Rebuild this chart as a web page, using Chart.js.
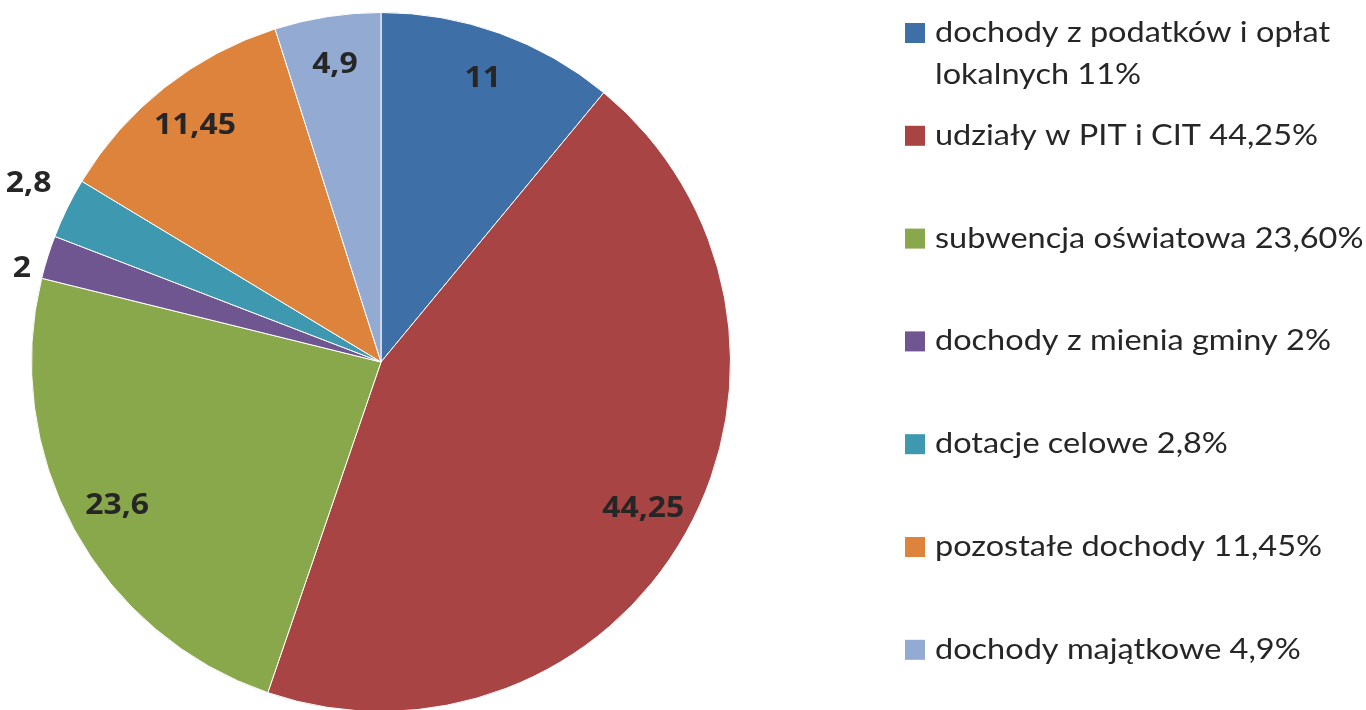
<!DOCTYPE html>
<html lang="pl">
<head>
<meta charset="utf-8">
<title>Struktura dochodów</title>
<script src="https://cdn.jsdelivr.net/npm/chart.js@4"></script>
<style>
    html, body { margin: 0; padding: 0; background: #fff; overflow: hidden; }
    #wrap { position: relative; width: 1366px; height: 724px; }
</style>
</head>
<body>
<div id="wrap"><canvas id="pieChart"></canvas></div>
<script>
// Chart data
const categories = [
    'dochody z podatków i opłat lokalnych',
    'udziały w PIT i CIT',
    'subwencja oświatowa',
    'dochody z mienia gminy',
    'dotacje celowe',
    'pozostałe dochody',
    'dochody majątkowe',
];
const values = [11, 44.25, 23.6, 2, 2.8, 11.45, 4.9];
const valueLabels = ['11', '44,25', '23,6', '2', '2,8', '11,45', '4,9'];
const legendLabels = [
    'dochody z podatków i opłat lokalnych 11%',
    'udziały w PIT i CIT 44,25%',
    'subwencja oświatowa 23,60%',
    'dochody z mienia gminy 2%',
    'dotacje celowe 2,8%',
    'pozostałe dochody 11,45%',
    'dochody majątkowe 4,9%',
];
const colors = ['#3E6FA7', '#A84444', '#89A84C', '#6F5690', '#3D98B0', '#DE833B', '#93AAD2'];

// text drawn slightly wider than the font, like the original
function wideText(ctx, text, x, y, sx) {
    ctx.save();
    ctx.translate(x, y);
    ctx.scale(sx, 1);
    ctx.fillText(text, 0, 0);
    ctx.restore();
}

// Draws the value labels on / beside each slice
const sliceLabels = {
    id: 'sliceLabels',
    afterDatasetsDraw(chart) {
        const ctx = chart.ctx;
        const meta = chart.getDatasetMeta(0);
        const inside = [], outside = [];
        meta.data.forEach((arc, i) => {
            const p = arc.getProps(['x', 'y', 'startAngle', 'endAngle', 'outerRadius'], true);
            const mid = (p.startAngle + p.endAngle) / 2;
            const small = values[i] < 3;
            const r = p.outerRadius * (small ? 1.05 : 0.86);
            const pos = { i, x: p.x + Math.cos(mid) * r, y: p.y + Math.sin(mid) * r };
            (small ? outside : inside).push(pos);
        });

        // spread the outside labels so they don't crowd each other
        outside.sort((a, b) => a.y - b.y);
        const minGap = 85;
        for (let k = 1; k < outside.length; k++) {
            const a = outside[k - 1], b = outside[k];
            const gap = b.y - a.y;
            if (gap < minGap) {
                const shift = (minGap - gap) / 2;
                a.y -= shift;
                b.y += shift;
            }
        }

        ctx.save();
        ctx.font = 'bold 29px "Open Sans", sans-serif';
        ctx.fillStyle = '#262626';
        ctx.textBaseline = 'middle';
        ctx.textAlign = 'center';
        inside.forEach(l => wideText(ctx, valueLabels[l.i], l.x, l.y, 1.1));
        ctx.textAlign = 'right';
        outside.forEach(l => wideText(ctx, valueLabels[l.i], l.x, l.y, 1.1));
        ctx.restore();
    },
};

// Draws the legend on the right side
const sideLegend = {
    id: 'sideLegend',
    afterDraw(chart) {
        const ctx = chart.ctx;
        const boxX = 905, textX = 935, sx = 1.16;
        const maxW = (1366 - textX) / sx;
        const firstY = 33, rowStep = 102.8, lineH = 42;
        ctx.save();
        ctx.font = '28px Lato, sans-serif';
        ctx.textBaseline = 'middle';
        ctx.textAlign = 'left';
        legendLabels.forEach((label, i) => {
            const y = firstY + i * rowStep;
            ctx.fillStyle = colors[i];
            ctx.fillRect(boxX, y - 10, 20, 20);
            ctx.fillStyle = '#262626';
            // simple word wrap
            const words = label.split(' ');
            let line = '', ly = y;
            words.forEach(w => {
                const test = line ? line + ' ' + w : w;
                if (ctx.measureText(test).width > maxW && line) {
                    wideText(ctx, line, textX, ly, sx);
                    line = w;
                    ly += lineH;
                } else {
                    line = test;
                }
            });
            wideText(ctx, line, textX, ly, sx);
        });
        ctx.restore();
    },
};

new Chart(document.getElementById('pieChart'), {
    type: 'pie',
    data: {
        labels: categories,
        datasets: [{
            data: values,
            backgroundColor: colors,
            borderColor: '#ffffff',
            borderWidth: 1,
        }],
    },
    options: {
        responsive: true,
        maintainAspectRatio: false,
        animation: false,
        layout: { padding: { left: 31, right: 635, top: 12, bottom: 12 } },
        plugins: {
            legend: { display: false },
            tooltip: { enabled: false },
        },
    },
    plugins: [sliceLabels, sideLegend],
});
</script>
</body>
</html>
